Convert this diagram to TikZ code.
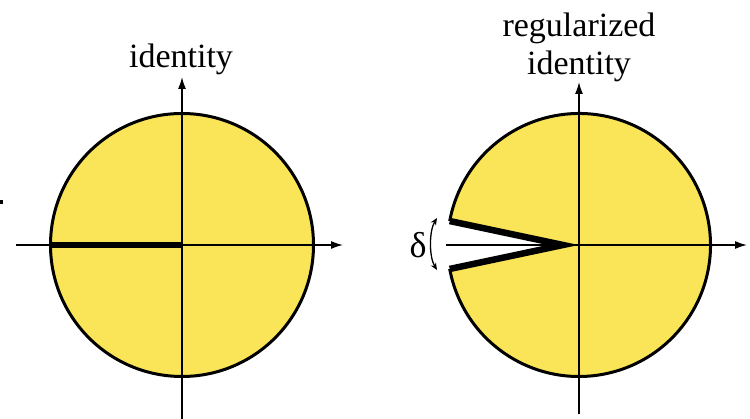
\documentclass[tikz,border=0pt]{standalone}
\usepackage{fontspec}
\setmainfont{Liberation Serif}
\usetikzlibrary{arrows.meta}
\definecolor{disk}{RGB}{250,228,88}
\tikzset{
  axis/.style={line width=1.5pt,-{Latex[length=12pt,width=8pt]}},
  rim/.style={line width=3pt},
  cut/.style={line width=6.5pt},
  title/.style={font=\fontsize{34}{38}\selectfont,anchor=base,inner sep=0pt}
}
\begin{document}
\begin{tikzpicture}[x=1pt,y=1pt]
\useasboundingbox (0,0) rectangle (750,419);
% small edge mark
\fill (0,215) rectangle (3,219);
% ---------- left: identity ----------
\coordinate (L) at (182,174);
\fill[disk] (L) circle[radius=131.5pt];
\coordinate (Lw) at (16,174);
\coordinate (Le) at (343,174);
\coordinate (Ls) at (182,0);
\coordinate (Ln) at (182,342);
\draw[axis] (Lw) -- (Le);
\draw[axis] (Ls) -- (Ln);
\draw[rim] (L) circle[radius=131.5pt];
\coordinate (Lcut) at (50.5,174);
\draw[cut] (Lcut) -- (L);
\node[title] (t1) at (181,351) {identity};
% ---------- right: regularized identity ----------
\coordinate (R) at (579,174);
\coordinate (Rc) at (563,174);
\fill[disk] (R) -- ++(-169.5:131.5pt) arc[start angle=-169.5,end angle=169.5,radius=131.5pt] -- cycle;
\coordinate (Rw) at (446,174);
\coordinate (Re) at (747,174);
\coordinate (Rs) at (579,5);
\coordinate (Rn) at (579,337);
\draw[axis] (Rw) -- (Re);
\draw[axis] (Rs) -- (Rn);
\draw[rim] (R) ++(-169.5:131.5pt) arc[start angle=-169.5,end angle=169.5,radius=131.5pt];
\path (R) ++(169.5:131.5pt) coordinate (Ru);
\path (R) ++(-169.5:131.5pt) coordinate (Rd);
\draw[cut,line join=miter,miter limit=20] (Ru) -- (Rc) -- (Rd);
\node[title] (t2a) at (579,382) {regularized};
\node[title] (t2b) at (579,344) {identity};
% delta
\coordinate (da) at (437,201);
\coordinate (db) at (437,149);
\draw[line width=1.3pt,{Stealth[length=7pt,width=6pt]}-{Stealth[length=7pt,width=6pt]}] (da) .. controls (429,188) and (429,162) .. (db);
\node[font=\fontsize{36}{40}\selectfont,inner sep=0pt] (delta) at (418,174) {δ};
\end{tikzpicture}
\end{document}
